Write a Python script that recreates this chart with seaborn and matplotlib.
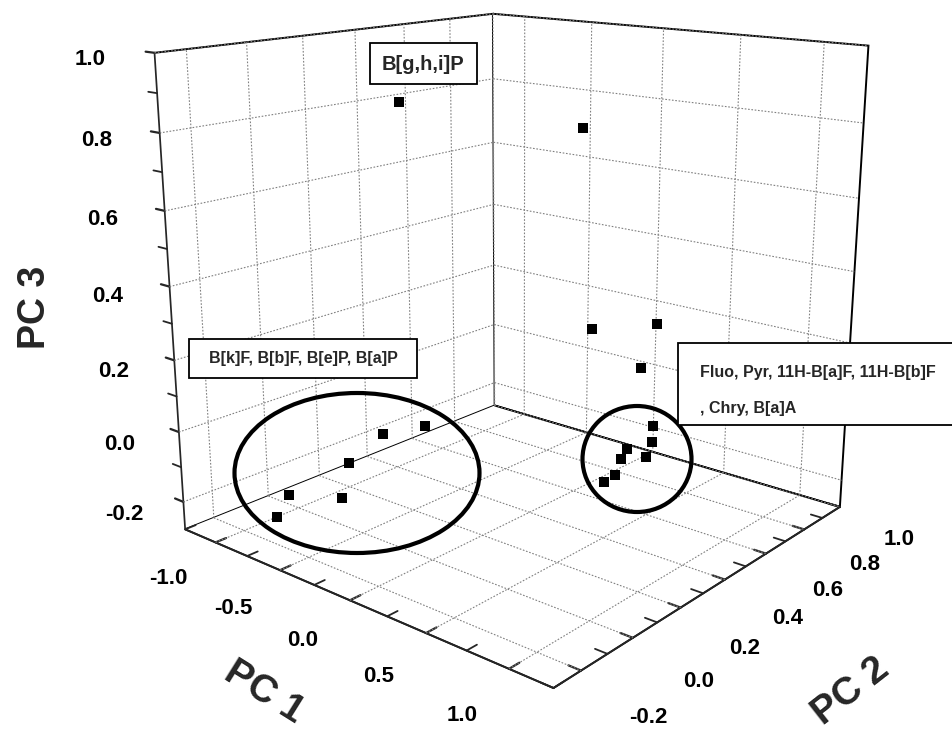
import numpy as np
import matplotlib
matplotlib.use('Agg')
import matplotlib.pyplot as plt
from matplotlib.patches import Ellipse, Rectangle
from matplotlib.ticker import MultipleLocator, NullFormatter
from mpl_toolkits.mplot3d import proj3d
import seaborn as sns

sns.set_theme(style='white')
plt.rcParams['font.family'] = ['Liberation Sans', 'DejaVu Sans']
plt.rcParams['axes.unicode_minus'] = False

# ---- data (PCA loadings) ----
pc1 = [-0.60, 0.25, 0.44, 0.63, 0.65, 0.28, 0.42, 0.38, 0.44, 0.52, 0.54, 0.56,
       -0.90, -0.73, -0.65, -0.98, -1.15, -1.05]
pc2 = [0.23, 0.46, 0.38, 0.53, 0.45, 0.79, 0.68, 0.59, 0.52, 0.58, 0.42, 0.36,
       -0.08, -0.20, 0.00, 0.19, 0.42, 0.55]
pc3 = [0.85, 0.80, 0.30, 0.30, 0.20, -0.10, -0.10, -0.10, -0.10, -0.10, -0.10, -0.10,
       -0.20, -0.20, -0.20, -0.20, -0.20, -0.20]

x_major = [-1.0, -0.5, 0.0, 0.5, 1.0]
y_major = [-0.2, 0.0, 0.2, 0.4, 0.6, 0.8, 1.0]
z_major = [-0.2, 0.0, 0.2, 0.4, 0.6, 0.8, 1.0]
x_ticklabels = ['-1.0', '-0.5', '0.0', '0.5', '1.0']
y_ticklabels = ['-0.2', '0.0', '0.2', '0.4', '0.6', '0.8', '1.0']
z_ticklabels = ['-0.2', '0.0', '0.2', '0.4', '0.6', '0.8', '1.0']
XL = (-1.25, 1.25)
YL = (-0.3, 1.0)
ZL = (-0.28, 1.0)

label_top = 'B[g,h,i]P'
label_left = 'B[k]F, B[b]F, B[e]P, B[a]P'
label_right = ['Fluo, Pyr, 11H-B[a]F, 11H-B[b]F', ', Chry, B[a]A']

W, H = 952, 739
fig = plt.figure(figsize=(W / 100, H / 100), dpi=100)
fig.patch.set_facecolor('white')
ax = fig.add_subplot(projection='3d', computed_zorder=False)
ax.view_init(elev=15.89, azim=-49.83)
ax.set_proj_type('persp', focal_length=0.3495)
ax.set_box_aspect((1, 0.9967, 1.0024))
ax.set_position([99.16 / W, 26.44 / H, 815.75 / W, 815.75 / H])
ax.grid(False)

for a in (ax.xaxis, ax.yaxis, ax.zaxis):
    a.set_pane_color((1, 1, 1, 1))
    a.pane.set_edgecolor('black')
    a.pane.set_linewidth(1.4)
    a._axinfo['axisline']['color'] = (0, 0, 0, 1)
    a._axinfo['axisline']['linewidth'] = 2.0
    a._axinfo['tick']['inward_factor'] = 0.0
    a._axinfo['tick']['outward_factor'] = 0.35
    a._axinfo['tick']['linewidth'] = {True: 1.6, False: 1.3}
    a._axinfo['tick']['color'] = (0, 0, 0, 1)
    a.set_major_formatter(NullFormatter())
    a.set_minor_formatter(NullFormatter())
    a.set_tick_params(which='both', labelbottom=False, labeltop=False)
    a.label.set_visible(False)
    a.offsetText.set_visible(False)
ax.zaxis._axinfo['juggled'] = (1, 2, 0)

ax.xaxis.set_major_locator(MultipleLocator(0.5)); ax.xaxis.set_minor_locator(MultipleLocator(0.25))
ax.yaxis.set_major_locator(MultipleLocator(0.2)); ax.yaxis.set_minor_locator(MultipleLocator(0.1))
ax.zaxis.set_major_locator(MultipleLocator(0.2)); ax.zaxis.set_minor_locator(MultipleLocator(0.1))
ax.set_xlim(*XL); ax.set_ylim(*YL); ax.set_zlim(*ZL)

# dotted grid on the three back panes, at the major ticks
gkw = dict(color='#808080', linestyle=(0, (1.5, 1.5)), linewidth=0.8, zorder=1)
for yv in y_major:
    ax.plot([XL[0], XL[0]], [yv, yv], ZL, **gkw)
    ax.plot([XL[0], XL[1]], [yv, yv], [ZL[0], ZL[0]], **gkw)
for zv in z_major:
    ax.plot([XL[0], XL[0]], YL, [zv, zv], **gkw)
    ax.plot(XL, [YL[1], YL[1]], [zv, zv], **gkw)
for xv in x_major:
    ax.plot([xv, xv], [YL[1], YL[1]], ZL, **gkw)
    ax.plot([xv, xv], YL, [ZL[0], ZL[0]], **gkw)

ax.scatter(pc1, pc2, pc3, marker='s', s=60, c='black', depthshade=False, zorder=5, linewidths=0)
ax.set_xlim(*XL); ax.set_ylim(*YL); ax.set_zlim(*ZL)

# tick labels: 3-D anchor points just outside the box, projected by the axes
M = ax.get_proj()
tkw = dict(fontsize=16, fontweight='bold', color='black', ha='center', va='center',
           xycoords='data', annotation_clip=False, zorder=6)


def tick_label(x, y, z, s):
    px, py, _ = proj3d.proj_transform(x, y, z, M)
    ax.annotate(s, xy=(float(px), float(py)), **tkw)


for xv, t in zip(x_major, x_ticklabels):
    tick_label(xv, YL[0] - 0.16, ZL[0] - 0.045, t)
for yv, t in zip(y_major, y_ticklabels):
    tick_label(XL[1] + 0.36, yv, ZL[0] - 0.045, t)
for zv, t in zip(z_major, z_ticklabels):
    tick_label(XL[0] - 0.13, YL[0] - 0.145, zv - 0.008, t)

# axis titles
fig.text(35 / W, 1 - 307 / H, 'PC 3', rotation=90, fontsize=27, fontweight='bold', ha='center', va='center')
fig.text(264 / W, 1 - 692 / H, 'PC 1', rotation=-32, fontsize=28, fontweight='bold', ha='center', va='center',
         rotation_mode='anchor')
fig.text(851 / W, 1 - 692 / H, 'PC 2', rotation=38, fontsize=28, fontweight='bold', ha='center', va='center',
         rotation_mode='anchor')

# cluster ellipses and label boxes
fig.add_artist(Ellipse((357 / W, 1 - 473 / H), 245 / W, 160 / H, transform=fig.transFigure,
                       fill=False, edgecolor='black', linewidth=3))
fig.add_artist(Ellipse((637 / W, 1 - 459 / H), 109 / W, 106 / H, transform=fig.transFigure,
                       fill=False, edgecolor='black', linewidth=3))
fig.add_artist(Rectangle((370 / W, 1 - 84 / H), 107 / W, 41 / H, transform=fig.transFigure,
                         facecolor='white', edgecolor='black', linewidth=1.3))
fig.text(423 / W, 1 - 64 / H, label_top, fontsize=14.5, fontweight='bold', ha='center', va='center')
fig.add_artist(Rectangle((189 / W, 1 - 378 / H), 228 / W, 39 / H, transform=fig.transFigure,
                         facecolor='white', edgecolor='black', linewidth=1.3))
fig.text(303 / W, 1 - 359 / H, label_left, fontsize=11.5, fontweight='bold', ha='center', va='center')
fig.add_artist(Rectangle((678 / W, 1 - 425 / H), 290 / W, 82 / H, transform=fig.transFigure,
                         facecolor='white', edgecolor='black', linewidth=1.3))
fig.text(700 / W, 1 - 372 / H, label_right[0], fontsize=11.5, fontweight='bold', ha='left', va='center')
fig.text(700 / W, 1 - 409 / H, label_right[1], fontsize=11.5, fontweight='bold', ha='left', va='center')

fig.savefig('out.png', dpi=100, facecolor='white')
